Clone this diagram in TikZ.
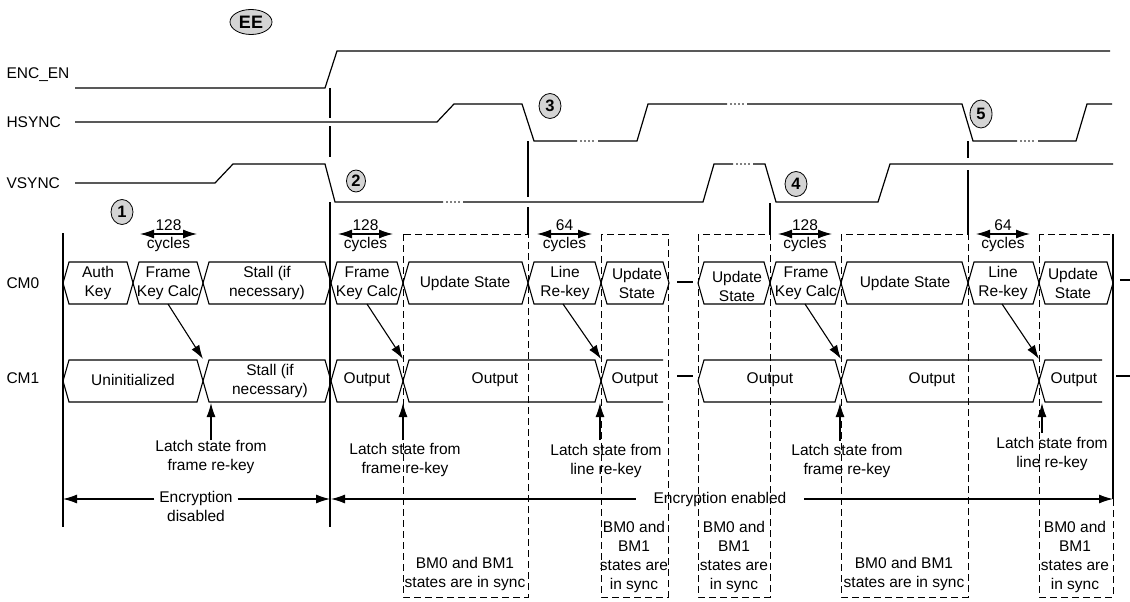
\documentclass[tikz,border=0pt]{standalone}
\usepackage{fontspec}
\setmainfont{Liberation Sans}
\usepackage{tikz}
\usetikzlibrary{positioning, shapes.geometric, arrows.meta}
\tikzstyle{wave} = [line width=1.2pt]
\tikzstyle{bus} = [line width=1.1pt]
\tikzstyle{marker} = [ellipse, draw=black, fill=black!17, line width=0.8pt, inner sep=0pt, minimum width=22pt, minimum height=25pt, font=\fontsize{16.5}{18}\selectfont\bfseries]
\tikzstyle{signame} = [anchor=west]
\tikzstyle{cell} = [align=center, inner sep=0pt]
\tikzstyle{syncbox} = [line width=1pt, dash pattern=on 7pt off 4pt]
\tikzstyle{arrow} = [line width=1.1pt, -{Latex[length=14pt,width=9pt]}]
\tikzstyle{dimarrow} = [line width=1.1pt, {Latex[length=14pt,width=9pt]}-{Latex[length=14pt,width=9pt]}]
\tikzstyle{every node}=[font=\fontsize{15.5}{19}\selectfont]
% closed bus cell: left tip, right tip, row centre
\newcommand{\busseg}[3]{\draw[bus] (#1,#3) -- (#1+6,#3-21) -- (#2-6,#3-21) -- (#2,#3) -- (#2-6,#3+21) -- (#1+6,#3+21) -- cycle;}
% bus cell left open on the right
\newcommand{\busopen}[3]{\draw[bus] (#2,#3-21) -- (#1+6,#3-21) -- (#1,#3) -- (#1+6,#3+21) -- (#2,#3+21);}

\begin{document}
\begin{tikzpicture}[x=1pt,y=-1pt]
	\useasboundingbox (0,0) rectangle (1130,602);

	%信号名称
	\node (encname) [signame] at (3,75) {ENC\_EN};
	\node (hsname) [signame] at (3,122) {HSYNC};
	\node (vsname) [signame] at (3,183) {VSYNC};
	\node (cm0name) [signame] at (3,283) {CM0};
	\node (cm1name) [signame] at (3,378) {CM1};

	%波形
	\draw[wave] (75,88) -- (325,88) -- (337,51) -- (1110,51);
	\draw[wave] (75,122) -- (437,122) -- (454,104) -- (522,104) -- (534,141) -- (577,141)
		(598,141) -- (637,141) -- (648,104) -- (727,104)
		(747,104) -- (962,104) -- (973,141) -- (1017,141)
		(1038,141) -- (1076,141) -- (1087,104) -- (1112,104);
	\draw[wave] (75,183) -- (215,183) -- (233,164) -- (325,164) -- (335,202) -- (443,202)
		(463,202) -- (703,202) -- (714,164) -- (733,164)
		(753,164) -- (765,164) -- (776,202) -- (878,202) -- (890,164) -- (1113,164);
	\foreach \x/\y in {577/141, 727/104, 1017/141, 443/202, 733/164}
		\foreach \d in {4,8,12,16}
			\fill (\x+\d,\y) circle (0.9pt);

	%事件竖线
	\draw[wave] (63,233) -- (63,527);
	\draw[wave] (330,88) -- (330,118) (330,126) -- (330,157) (330,202) -- (330,527);
	\draw[wave] (528,141) -- (528,197) (528,207) -- (528,234);
	\draw[wave] (770,203) -- (770,234);
	\draw[wave] (968,141) -- (968,158) (968,170) -- (968,234);
	\draw[wave] (1113,234) -- (1113,499);

	%标记
	\node (ee) [marker, minimum width=42pt, minimum height=25pt, font=\fontsize{18}{20}\selectfont\bfseries] at (251,22) {EE};
	\node (m1) [marker] at (122,212) {1};
	\node (m2) [marker, minimum width=19pt, minimum height=22pt] at (356,181) {2};
	\node (m3) [marker] at (550,106) {3};
	\node (m4) [marker] at (796,184) {4};
	\node (m5) [marker, minimum height=28pt] at (981,114) {5};

	%同步框
	\draw[syncbox] (403,234) rectangle (528,597);
	\draw[syncbox] (601,234) rectangle (668,597);
	\draw[syncbox] (698,234) rectangle (770,597);
	\draw[syncbox] (841,234) rectangle (968,597);
	\draw[syncbox] (1039,234) rectangle (1113,597);
	\node (syncA) [cell] at (465,574) {BM0 and BM1\\states are in sync};
	\node (syncB) [cell] at (634,557) {BM0 and\\BM1\\states are\\in sync};
	\node (syncC) [cell] at (734,557) {BM0 and\\BM1\\states are\\in sync};
	\node (syncD) [cell] at (904,574) {BM0 and BM1\\states are in sync};
	\node (syncE) [cell] at (1075,557) {BM0 and\\BM1\\states are\\in sync};

	%CM0
	\busseg{63}{133}{283}
	\busseg{133}{203}{283}
	\busseg{203}{331}{283}
	\busseg{331}{403}{283}
	\busseg{403}{528}{283}
	\busseg{528}{601}{283}
	\busseg{601}{669}{283}
	\busseg{698}{770}{283}
	\busseg{770}{841}{283}
	\busseg{841}{968}{283}
	\busseg{968}{1039}{283}
	\busseg{1039}{1113}{283}
	\draw[bus] (677,282) -- (693,282);
	\draw[bus] (1120,280) -- (1130,280);
	\node (authkey) [cell] at (98,283) {Auth\\Key};
	\node (fkc1) [cell] at (168,283) {Frame\\Key Calc};
	\node (stall0) [cell] at (267,283) {Stall (if\\necessary)};
	\node (fkc2) [cell] at (367,283) {Frame\\Key Calc};
	\node (upd1) [cell] at (465,283) {Update State};
	\node (lrk1) [cell] at (565,283) {Line\\Re-key};
	\node (upd2) [cell] at (637,283) {Update\\State};
	\node (upd3) [cell] at (737,286) {Update\\State};
	\node (fkc3) [cell] at (806,283) {Frame\\Key Calc};
	\node (upd4) [cell] at (905,283) {Update State};
	\node (lrk2) [cell] at (1003,283) {Line\\Re-key};
	\node (upd5) [cell] at (1073,283) {Update\\State};

	%CM1
	\busseg{63}{203}{381}
	\busseg{203}{331}{381}
	\busseg{331}{403}{381}
	\busseg{403}{601}{381}
	\busopen{601}{663}{381}
	\busseg{698}{841}{381}
	\busseg{841}{1039}{381}
	\busopen{1039}{1102}{381}
	\draw[bus] (677,376) -- (693,376);
	\draw[bus] (1116,376) -- (1130,376);
	\node (uninit) [cell] at (133,380) {Uninitialized};
	\node (stall1) [cell] at (270,381) {Stall (if\\necessary)};
	\node (out1) [cell] at (367,380) {Output};
	\node (out2) [cell] at (495,380) {Output};
	\node (out3) [cell] at (635,380) {Output};
	\node (out4) [cell] at (770,380) {Output};
	\node (out5) [cell] at (932,380) {Output};
	\node (out6) [cell] at (1074,380) {Output};

	%周期标注
	\foreach \n/\xa/\xb/\lab in {1/140/197/128, 2/338/393/128, 3/537/592/64, 4/778/832/128, 5/976/1030/64} {
		\coordinate (cycL\n) at (\xa,234);
		\coordinate (cycR\n) at (\xb,234);
		\node (cyc\n) [cell, font=\fontsize{15.5}{18}\selectfont] at ({(\xa+\xb)/2},236) {\lab\\cycles};
		\draw[dimarrow] (cycL\n) -- (cycR\n);
	}

	%密钥传递箭头
	\foreach \n/\xa/\xb in {1/168/203, 2/367/403, 3/563/601, 4/805/841, 5/1002/1039} {
		\coordinate (keyout\n) at (\xa,304);
		\coordinate (keyin\n) at (\xb,359);
		\draw[arrow] (keyout\n) -- (keyin\n);
	}

	%锁存
	\node (latch1) [cell] at (211,457) {Latch state from\\frame re-key};
	\node (latch2) [cell] at (405,460) {Latch state from\\frame re-key};
	\node (latch3) [cell] at (606,461) {Latch state from\\line re-key};
	\node (latch4) [cell] at (847,461) {Latch state from\\frame re-key};
	\node (latch5) [cell] at (1052,454) {Latch state from\\line re-key};
	\foreach \n/\x/\yb in {1/211/440, 2/403/440, 3/600/440, 4/840/441, 5/1042/433} {
		\coordinate (latchbase\n) at (\x,\yb);
		\coordinate (latchtip\n) at (\x,403);
		\draw[arrow] (latchbase\n) -- (latchtip\n);
	}

	%加密区间
	\coordinate (disL) at (63,499);
	\coordinate (disR) at (330,499);
	\coordinate (enL) at (331,499);
	\coordinate (enR) at (1113,499);
	\node (encdis) [cell, outer sep=5pt] at (196,506) {Encryption\\disabled};
	\node (encen) [cell, outer sep=18pt] at (720,499) {Encryption enabled};
	\draw[arrow] (encdis.west |- disL) -- (disL);
	\draw[arrow] (encdis.east |- disR) -- (disR);
	\draw[arrow] (encen.west) -- (enL);
	\draw[arrow] (encen.east) -- (enR);

\end{tikzpicture}
\end{document}
